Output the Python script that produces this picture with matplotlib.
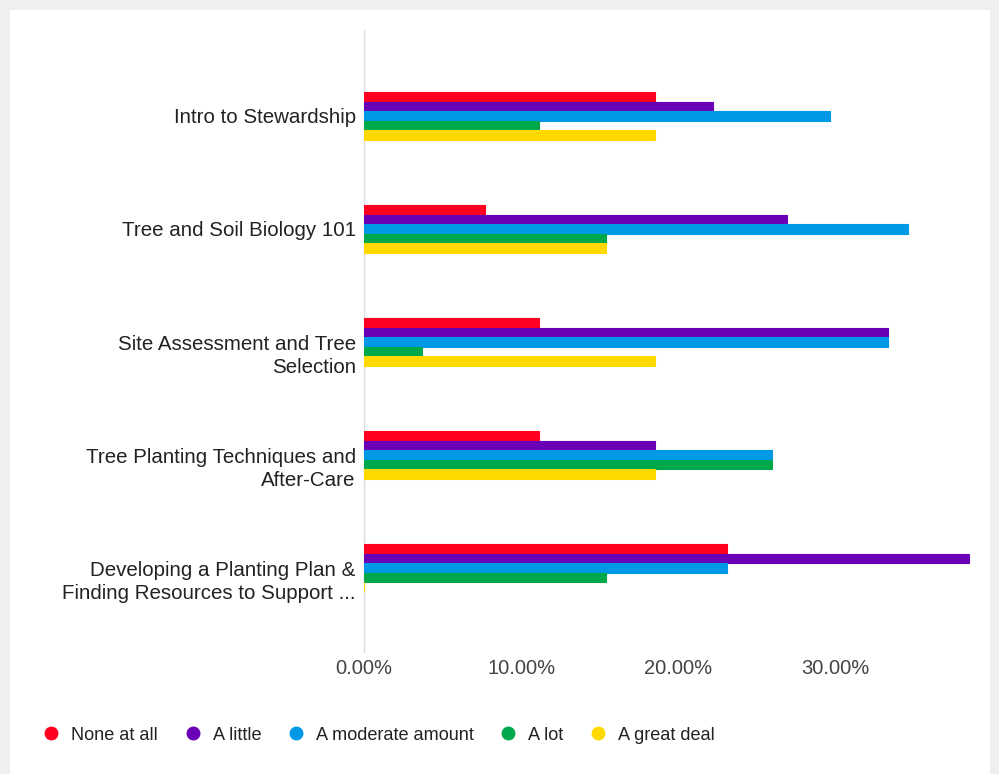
import matplotlib
matplotlib.use("Agg")
import matplotlib.pyplot as plt
from matplotlib.patches import Rectangle
from matplotlib.lines import Line2D
from matplotlib.ticker import FuncFormatter
from matplotlib.transforms import ScaledTranslation
import numpy as np

plt.rcParams['font.family'] = ['Liberation Sans', 'DejaVu Sans']

categories = [
    "Intro to Stewardship",
    "Tree and Soil Biology 101",
    "Site Assessment and Tree\nSelection",
    "Tree Planting Techniques and\nAfter-Care",
    "Developing a Planting Plan &\nFinding Resources to Support ...",
]
series_names = ["None at all", "A little", "A moderate amount", "A lot", "A great deal"]
colors = ["#FF0020", "#6A00B5", "#0099E6", "#00A84C", "#FFD900"]

none_at_all = [0.1852, 0.0769, 0.1111, 0.1111, 0.2308]
a_little = [0.2222, 0.2692, 0.3333, 0.1852, 0.3846]
moderate = [0.2963, 0.3462, 0.3333, 0.2593, 0.2308]
a_lot = [0.1111, 0.1538, 0.0370, 0.2593, 0.1538]
great_deal = [0.1852, 0.1538, 0.1852, 0.1852, 0.0]
series_values = [none_at_all, a_little, moderate, a_lot, great_deal]

x_ticks = [0.0, 0.1, 0.2, 0.3]

W, H = 999, 774
fig = plt.figure(figsize=(W / 100, H / 100), dpi=100)
fig.patch.set_facecolor("#efefef")
fig.add_artist(Rectangle((10 / W, 0), 980 / W, 1 - 10 / H, transform=fig.transFigure,
                         facecolor="white", edgecolor="none", zorder=0))

ax = fig.add_axes([364 / W, 1 - 652 / H, 613 / W, 622 / H])
ax.set_facecolor("none")

y = np.arange(len(categories))
bar_h = 0.085
for j, (name, vals, col) in enumerate(zip(series_names, series_values, colors)):
    ax.barh(y + (j - 2) * bar_h, vals, height=bar_h, color=col,
            edgecolor=col, linewidth=0.8, label=name, zorder=3)

ax.set_ylim(4.744, -0.761)
ax.set_xlim(0, 0.39)
ax.set_yticks(y)
ax.set_yticklabels(categories, fontsize=14.8, color="#222222", linespacing=1.22)
ax.set_xticks(x_ticks)
ax.xaxis.set_major_formatter(FuncFormatter(lambda v, p: f"{v * 100:.2f}%"))
ax.tick_params(axis="x", length=0, labelsize=14.5, labelcolor="#444444", pad=5)
ax.tick_params(axis="y", length=0, pad=6)

# wrapped category names hang from their first line
for lab in ax.get_yticklabels():
    if "\n" in lab.get_text():
        lab.set_verticalalignment("top")
        lab.set_transform(lab.get_transform() +
                          ScaledTranslation(0, 4.7 / 72, fig.dpi_scale_trans))

for s in ["top", "right", "bottom"]:
    ax.spines[s].set_visible(False)
ax.spines["left"].set_color("#dddddd")
ax.spines["left"].set_linewidth(1)

handles = [Line2D([0], [0], marker='o', linestyle='none', markersize=9,
                  markerfacecolor=c, markeredgecolor=c) for c in colors]
fig.legend(handles, series_names, loc="center left",
           bbox_to_anchor=(26 / W, 1 - 735 / H), ncol=5, frameon=False,
           fontsize=13.1, handletextpad=0.6, columnspacing=1.4,
           handlelength=1.0, labelcolor="#222222")

fig.savefig("out.png", dpi=100)
